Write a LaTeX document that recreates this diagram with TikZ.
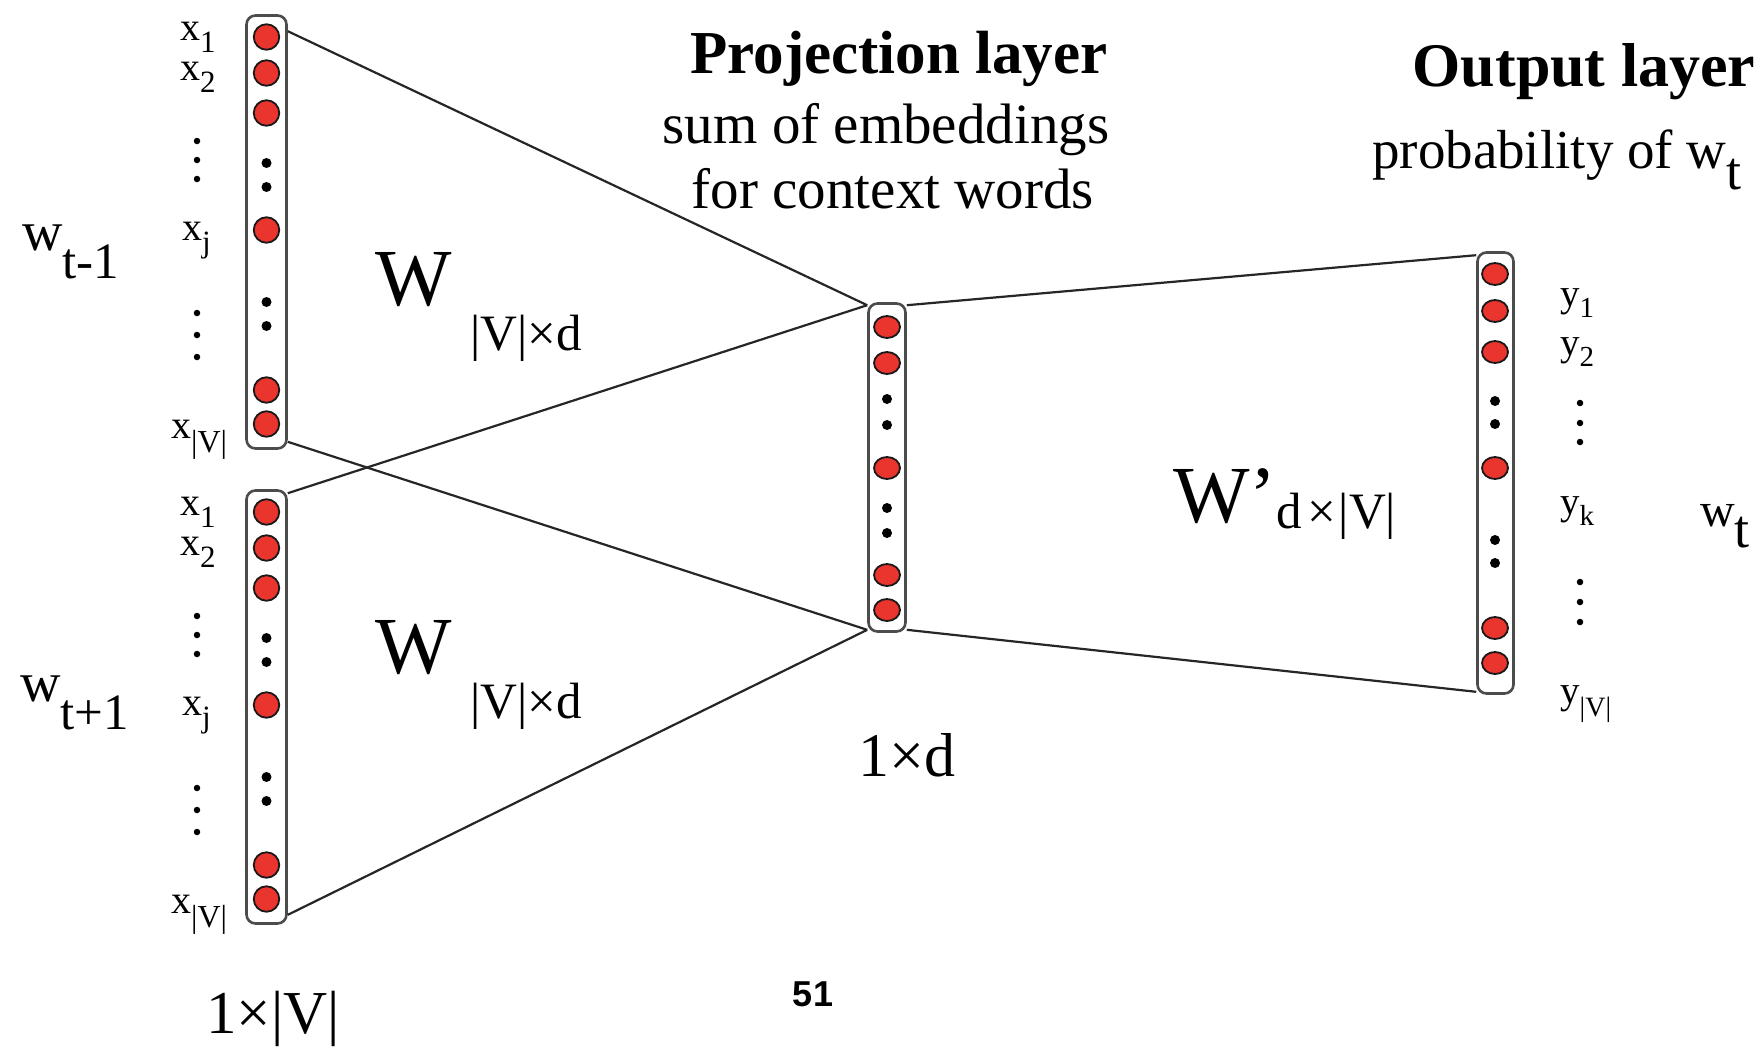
\documentclass[tikz,border=0pt]{standalone}
\usepackage{fontspec}
\setmainfont{Liberation Serif}
\newfontfamily\pagefont{Liberation Sans}
\usetikzlibrary{calc,shapes.geometric}
\definecolor{nred}{RGB}{234,52,46}
\newcommand\fs[1]{\fontsize{#1}{#1}\selectfont}
\newcommand\lsub[3]{\raisebox{-#2pt}{\fs{#1}#3}}
\begin{document}
\begin{tikzpicture}[x=1pt,y=-1pt,
  vecbox/.style={draw=black!70, line width=2.6pt, rounded corners=9pt, fill=white, inner sep=0pt, minimum width=#1},
  neuron/.style={circle, draw=black!90, line width=1.8pt, fill=nred, minimum size=25.5pt, inner sep=0pt},
  eneuron/.style={ellipse, draw=black!90, line width=1.8pt, fill=nred, minimum width=26pt, minimum height=22pt, inner sep=0pt},
  bdot/.style={circle, fill=black, minimum size=10pt, inner sep=0pt},
  ldot/.style={circle, fill=black, minimum size=6.5pt, inner sep=0pt},
  lbl/.style={anchor=base west, inner sep=0pt},
  cbl/.style={anchor=base, inner sep=0pt},
  conn/.style={draw=black!85, line width=2.2pt}
]
\fill[white] (0,0) rectangle (1763,1050);
\useasboundingbox (0,0) rectangle (1763,1050);

% ---------- input vectors ----------
\node[vecbox=40, minimum height=433] (b1) at (266.5,232) {};
\node[vecbox=40, minimum height=433] (b2) at (266.5,707) {};
\foreach \s/\b in {0/a,475/b}{
  \foreach \y/\n in {37/1,73/2,113/3,230/4,390/5,424/6}
    \node[neuron] (\b n\n) at (266.5,\y+\s) {};
  \foreach \y/\n in {163/1,187/2,302/3,326/4}
    \node[bdot] (\b d\n) at (266.5,\y+\s) {};
  \node[lbl] (\b l1) at (180,40+\s) {\fs{40}x\lsub{31}{12}{1}};
  \node[lbl] (\b l2) at (180,80+\s) {\fs{40}x\lsub{31}{12}{2}};
  \node[lbl] (\b lj) at (182,240+\s) {\fs{40}x\lsub{31}{12}{j}};
  \node[lbl] (\b lv) at (171,438+\s) {\fs{40}x\lsub{32}{14}{|V|}};
  \foreach \y/\n in {141/1,160/2,179/3,313/4,335/5,357/6}
    \node[ldot] (\b v\n) at (197,\y+\s) {};
}

% ---------- projection vector ----------
\node[vecbox=37, minimum height=328] (pc) at (887,467.5) {};
\foreach \y/\n in {327/1,363/2,468/3,575/4,610/5}
  \node[eneuron] (pn\n) at (887,\y) {};
\foreach \y/\n in {399/1,425/2,508/3,533/4}
  \node[bdot] (pd\n) at (887,\y) {};

% ---------- output vector ----------
\node[vecbox=36, minimum height=441] (ov) at (1495.5,473) {};
\foreach \y/\n in {274/1,311/2,352/3,468/4,628/5,663/6}
  \node[eneuron] (on\n) at (1495,\y) {};
\foreach \y/\n in {401/1,424/2,540/3,563/4}
  \node[bdot] (od\n) at (1495,\y) {};

% ---------- connectors ----------
\draw[conn] ([yshift=-17pt]b1.north east) -- ([yshift=-3pt]pc.north west);
\draw[conn] ([yshift=8pt]b1.south east) -- ([yshift=3pt]pc.south west);
\draw[conn] ([yshift=-4pt]b2.north east) -- ([yshift=-3pt]pc.north west);
\draw[conn] ([yshift=10pt]b2.south east) -- ([yshift=3pt]pc.south west);
\draw[conn] ([yshift=-3pt]pc.north east) -- ([yshift=-4pt]ov.north west);
\draw[conn] ([yshift=3pt]pc.south east) -- ([yshift=3pt]ov.south west);

% ---------- left labels ----------
\node[lbl] (wm) at (22,250) {\fs{56}w\lsub{51}{28}{t-1}};
\node[lbl] (wp) at (20,701) {\fs{56}w\lsub{51}{28}{t+1}};
\node[lbl] (W1) at (375,305) {\fs{81}W};
\node[lbl] (W1s) at (470,350) {\fs{51}|V|×d};
\node[lbl] (W2) at (375,673) {\fs{81}W};
\node[lbl] (W2s) at (470,718) {\fs{51}|V|×d};
\node[lbl] (dimV) at (206,1033) {\fs{61}1×|V|};

% ---------- middle labels ----------
\node[cbl] (ph) at (899,73) {\fs{61}\bfseries Projection layer};
\node[cbl] (ps1) at (886,143) {\fs{57}sum of embeddings};
\node[cbl] (ps2) at (893,208) {\fs{57}for context words};
\node[cbl] (dimd) at (907,776) {\fs{62}1×d};
\node[cbl] (pg) at (813,1006) {\pagefont\fs{36}\bfseries 51};
\node[lbl] (Wp) at (1173,522) {\fs{81}W’\lsub{51}{6}{d\hspace{5pt}×\hspace{3pt}|V|}};

% ---------- right labels ----------
\node[cbl] (oh) at (1584,86) {\fs{62}\bfseries Output layer};
\node[lbl] (os) at (1372,168) {\fs{55}probability of w\lsub{54}{21}{t}};
\node[lbl] (y1) at (1560,306) {\fs{39}y\lsub{29}{11}{1}};
\node[lbl] (y2) at (1560,355) {\fs{39}y\lsub{29}{11}{2}};
\node[lbl] (yk) at (1560,514) {\fs{39}y\lsub{29}{11}{k}};
\node[lbl] (yv) at (1560,703) {\fs{39}y\lsub{28}{13}{|V|}};
\foreach \y/\n in {403/1,423/2,442/3,582/4,602/5,622/6}
  \node[ldot] (rv\n) at (1580,\y) {};
\node[lbl] (wt) at (1700,526) {\fs{48}w\lsub{54}{21}{t}};
\end{tikzpicture}
\end{document}
